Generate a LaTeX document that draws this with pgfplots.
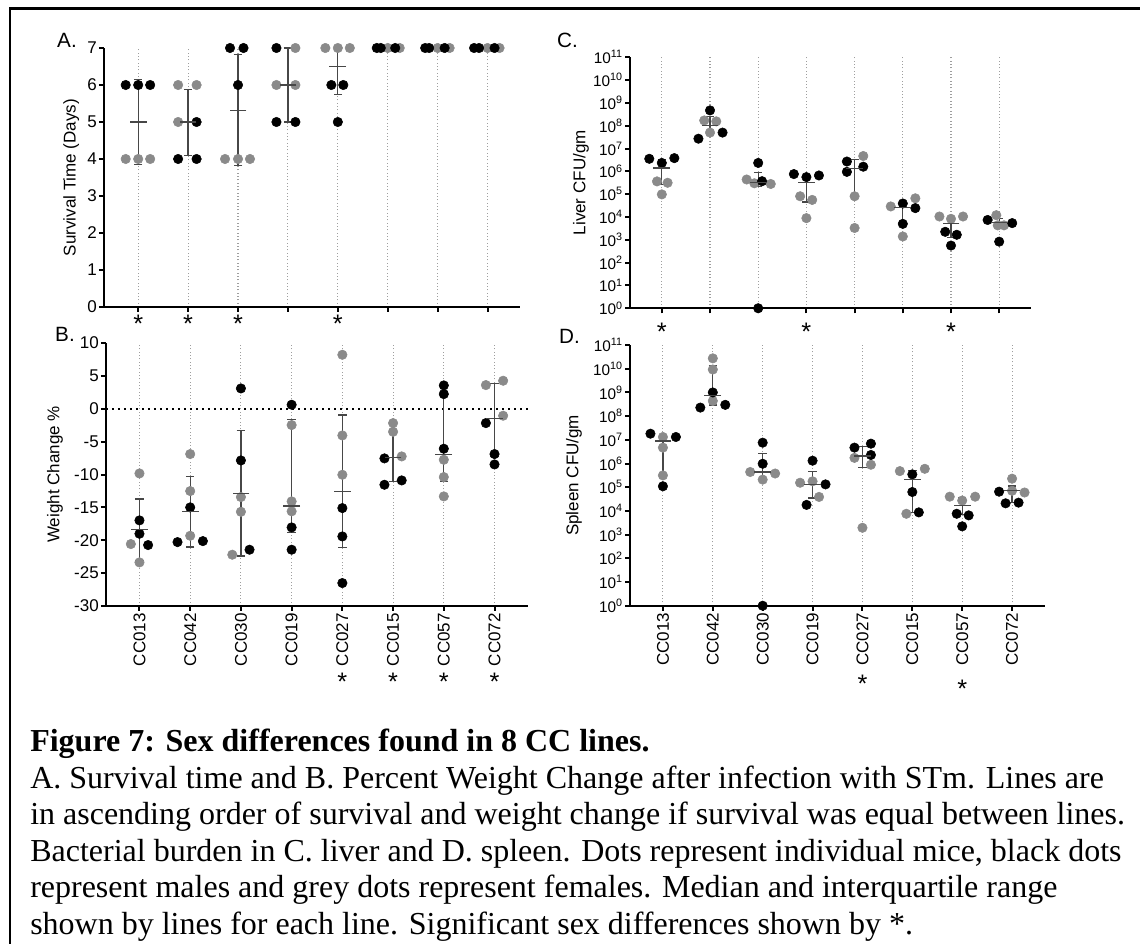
\documentclass[border=0pt]{standalone}
\usepackage{fontspec}
\setmainfont{Liberation Sans}
\newfontfamily\capfont{Liberation Serif}
\usepackage{pgfplots}
\usepackage{pgfplotstable}
\pgfplotsset{compat=1.18}

\definecolor{femgray}{gray}{0.54}
\definecolor{barcol}{gray}{0.28}
\definecolor{gridcol}{gray}{0.62}

% ---------------- Panel A: survival time (days) ----------------
\pgfplotstableread{
x y
-0.25 4
0 4
0.24 4
0.8 6
1.17 6
0.8 5
1.74 4
2 4
2.24 4
3.15 7
2.77 6
3.15 6
3.75 7
4 7
4.24 7
5 7
5.24 7
6 7
6.24 7
7 7
7.24 7
}\survF
\pgfplotstableread{
x y
-0.25 6
0 6
0.24 6
1.17 5
0.8 4
1.17 4
1.84 7
2.11 7
2 6
2.77 7
2.77 5
3.15 5
3.87 6
4.11 6
4 5
4.78 7
4.86 7
5.15 7
5.75 7
5.83 7
6.14 7
6.73 7
6.83 7
7.14 7
}\survM
\pgfplotstableread{
x mid lo hi
0 5 3.85 6.15
1 5 4.1 5.88
2 5.32 3.82 6.83
3 6 5 7
4 6.5 5.75 7
}\survS

% ---------------- Panel B: weight change (%) ----------------
\pgfplotstableread{
x y
0 -9.84
-0.17 -20.58
0 -23.37
1 -6.89
1 -12.52
1 -19.32
2 -13.43
2 -15.67
1.83 -22.2
3 -2.48
3 -14.09
3 -15.6
4 8.21
4 -4.06
4 -10.04
5 -2.18
5 -3.5
5.17 -7.25
6 -7.76
6 -10.39
6 -13.33
6.83 3.6
7.17 4.26
7.17 -1.06
}\wtF
\pgfplotstableread{
x y
0 -16.98
0 -19.01
0.17 -20.73
1 -15.0
0.75 -20.28
1.25 -20.13
2 3.09
2 -7.86
2.17 -21.44
3 0.61
3 -18.05
3 -21.44
4 -15.11
4 -19.42
4 -26.51
4.83 -7.55
4.83 -11.56
5.17 -10.9
6 3.55
6 2.23
6 -6.08
6.83 -2.18
7 -6.89
7 -8.47
}\wtM
\pgfplotstableread{
x mid lo hi
0 -18.35 -23.1 -13.74
1 -15.67 -21.04 -10.29
2 -12.88 -22.41 -3.35
3 -14.8 -18.81 -1.67
4 -12.57 -21.14 -0.96
5 -7.45 -11.05 -3.17
6 -6.95 -11.05 2.56
7 -1.52 -7.28 3.9
}\wtS

% ---------------- Panel C: liver CFU/gm ----------------
\pgfplotstableread{
x y
-0.1 3.63e5
0.12 3.16e5
0 9.8e4
0.88 1.7e8
1.13 1.55e8
1 5.0e7
1.76 4.4e5
1.92 3.0e5
2.26 2.8e5
2.87 8.1e4
3.12 5.6e4
3 8.9e3
4.18 4.7e6
4 8.1e4
4 3.3e3
4.75 2.9e4
5.26 6.6e4
5 1.4e3
5.76 1.05e4
6 8.3e3
6.25 1.05e4
6.94 1.2e4
6.97 4.3e3
7.1 4.3e3
}\livF
\pgfplotstableread{
x y
-0.26 3.55e6
0 2.34e6
0.26 3.8e6
1 4.7e8
0.76 2.7e7
1.26 5.0e7
2 2.34e6
2.08 3.7e5
2 1
2.74 7.6e5
3 5.6e5
3.26 6.6e5
3.84 2.7e6
3.84 9.5e5
4.18 1.6e6
5 3.9e4
5.26 2.45e4
5 5.0e3
5.88 2.24e3
6.12 1.66e3
6 5.6e2
6.76 7.4e3
7.27 5.4e3
7 8.3e2
}\livM
\pgfplotstableread{
x mid lo hi
0 1.4e6 2.7e5 3.4e6
1 1.02e8 4.3e7 2.45e8
2 3.2e5 2.2e5 8.9e5
3 3.2e5 4.5e4 6.3e5
4 1.3e6 8.9e4 3.3e6
5 2.7e4 5.6e3 4.0e4
6 5.0e3 1.3e3 8.9e3
7 5.75e3 4.0e3 8.9e3
}\livS

% ---------------- Panel D: spleen CFU/gm ----------------
\pgfplotstableread{
x y
0 1.32e7
0 4.7e6
0 3.16e5
1 2.75e10
1 9.3e9
1 4.4e8
1.75 4.4e5
2.25 3.8e5
2 2.1e5
2.75 1.55e5
3 1.78e5
3.13 3.9e4
3.84 1.74e6
4.17 8.9e5
4 1.95e3
4.75 4.8e5
5.25 6.0e5
4.88 7.6e3
5.75 4.0e4
6 2.75e4
6.26 4.0e4
7 2.3e5
7 7.1e4
7.25 6.0e4
}\splF
\pgfplotstableread{
x y
-0.25 1.82e7
0.26 1.32e7
0 1.1e5
1 1e9
0.75 2.3e8
1.25 3.0e8
2 7.6e6
2 9.8e5
2 1
3 1.32e6
3.26 1.32e5
2.88 1.8e4
3.84 4.7e6
4.17 6.9e6
4.17 2.3e6
5 3.5e5
5 6.3e4
5.13 8.7e3
5.89 7.6e3
6.13 6.5e3
6 2.24e3
6.74 6.5e4
6.87 2.1e4
7.13 2.24e4
}\splM
\pgfplotstableread{
x mid lo hi
0 8.9e6 2.8e5 1.26e7
1 7.4e8 2.95e8 1.4e10
2 4.4e5 2.2e5 2.7e6
3 1.35e5 3.5e4 4.7e5
4 2.1e6 6.9e5 5.2e6
5 2.1e5 8.7e3 5.1e5
6 1.7e4 7.1e3 3.5e4
7 7.1e4 2.24e4 1.12e5
}\splS

\newcommand\chartfont{\fontsize{12.75}{14}\selectfont}
\newcommand\logfont{\fontsize{11.5}{12}\selectfont}
\newcommand\sigstar{\fontsize{19}{19}\selectfont *}
\newcommand\dec[1]{10\textsuperscript{#1}}

\tikzset{sig/.style={anchor=north, inner sep=0pt}}

\pgfplotsset{
  ccaxis/.style={
    scale only axis, anchor=south west, clip=false,
    axis x line*=bottom, axis y line*=left,
    axis line style={line width=1.5pt},
    tick align=outside, major tick length=3.75pt,
    every tick/.style={black, line width=1.5pt},
    xtick={0,...,7}, xmin=-0.66, xmax=7.66,
    xmajorgrids,
    major x grid style={gridcol, line width=0.8pt, dash pattern=on 0.8pt off 1.7pt},
    tick label style={font=\chartfont},
    label style={font=\chartfont},
    /pgf/number format/assume math mode=true,
    yticklabel style={inner sep=1.5pt},
    xticklabel style={inner sep=1.5pt},
  },
  cfu/.style={
    ymin=1, ymax=1e11, yminorticks=false,
    ytick={1,1e1,1e2,1e3,1e4,1e5,1e6,1e7,1e8,1e9,1e10,1e11},
    yticklabels={\dec{0},\dec{1},\dec{2},\dec{3},\dec{4},\dec{5},\dec{6},
      \dec{7},\dec{8},\dec{9},\dec{10},\dec{11}},
    yticklabel style={font=\logfont},
  },
  cclabels/.style={
    xticklabels={CC013,CC042,CC030,CC019,CC027,CC015,CC057,CC072},
    xticklabel style={rotate=90, anchor=east},
  },
  female/.style={only marks, mark=*, mark size=3.55pt, color=femgray,
    mark options={solid, fill=femgray, draw=femgray}},
  male/.style={only marks, mark=*, mark size=3.55pt, color=black,
    mark options={solid, fill=black, draw=black}},
  spread/.style={only marks, mark=-, mark size=6.3pt, color=barcol,
    mark options={solid, line width=0.9pt},
    error bars/.cd, y dir=both, y explicit,
    error bar style={line width=0.9pt, barcol},
    error mark options={rotate=90, mark size=3.2pt, line width=0.9pt, barcol}},
}

\newcommand\spreadplot[1]{%
  \addplot[spread] table[x=x, y=mid,
    y error plus expr={\thisrow{hi}-\thisrow{mid}},
    y error minus expr={\thisrow{mid}-\thisrow{lo}}]{#1};}

\begin{document}
\begin{tikzpicture}
\path[use as bounding box] (0,0) rectangle (855pt,-708pt);
% frame
\draw[line width=1.9pt] (7.5pt,-710pt) -- (7.5pt,-6.4pt) -- (857pt,-6.4pt);

% panel letters
\node[font=\fontsize{15.5}{16}\selectfont, inner sep=0pt] at (50.25pt,-30pt) {A.};
\node[font=\fontsize{15.5}{16}\selectfont, inner sep=0pt] at (48.75pt,-250.9pt) {B.};
\node[font=\fontsize{15.5}{16}\selectfont, inner sep=0pt] at (425.6pt,-30pt) {C.};
\node[font=\fontsize{15.5}{16}\selectfont, inner sep=0pt] at (427.1pt,-252pt) {D.};

% ---- A ----
\begin{axis}[ccaxis, at={(78pt,-230.25pt)}, width=312pt, height=194.25pt,
  xmin=-0.685, xmax=7.65, ymin=0, ymax=7, ytick={0,...,7},
  xticklabels={},
  ylabel={Survival Time (Days)},
  ylabel style={at={(axis description cs:-0.079,0.5)}, anchor=center}]
\addplot[female] table{\survF};
\addplot[male] table{\survM};
\spreadplot{\survS}
\node[sig] at (axis cs:0,0) [yshift=-6pt] {\sigstar};
\node[sig] at (axis cs:1,0) [yshift=-6pt] {\sigstar};
\node[sig] at (axis cs:2,0) [yshift=-6pt] {\sigstar};
\node[sig] at (axis cs:4,0) [yshift=-6pt] {\sigstar};
\end{axis}

% ---- B ----
\begin{axis}[ccaxis, cclabels, at={(79.5pt,-454.5pt)}, width=316.5pt, height=197.25pt,
  ymin=-30, ymax=10, ytick={-30,-25,...,10},
  ylabel={Weight Change \%},
  ylabel style={at={(axis description cs:-0.121,0.5)}, anchor=center}]
\addplot[black, line width=1.4pt, dash pattern=on 1.2pt off 3.3pt, forget plot]
  coordinates {(-0.66,0) (7.66,0)};
\addplot[female] table{\wtF};
\addplot[male] table{\wtM};
\spreadplot{\wtS}
\node[sig] at (axis cs:4,-30) [yshift=-50.25pt] {\sigstar};
\node[sig] at (axis cs:5,-30) [yshift=-50.25pt] {\sigstar};
\node[sig] at (axis cs:6,-30) [yshift=-50.25pt] {\sigstar};
\node[sig] at (axis cs:7,-30) [yshift=-50.25pt] {\sigstar};
\end{axis}

% ---- C ----
\begin{semilogyaxis}[ccaxis, cfu, at={(472.5pt,-231.2pt)}, width=300.75pt, height=188.25pt,
  xticklabels={},
  ylabel={Liver CFU/gm},
  ylabel style={at={(axis description cs:-0.122,0.5)}, anchor=center}]
\addplot[female] table{\livF};
\addplot[male] table{\livM};
\spreadplot{\livS}
\node[sig] at (axis cs:0,1) [yshift=-11pt] {\sigstar};
\node[sig] at (axis cs:3,1) [yshift=-11pt] {\sigstar};
\node[sig] at (axis cs:6,1) [yshift=-11pt] {\sigstar};
\end{semilogyaxis}

% ---- D ----
\begin{semilogyaxis}[ccaxis, cfu, cclabels, at={(472.5pt,-454.3pt)}, width=311.25pt, height=195.5pt,
  ylabel={Spleen CFU/gm},
  ylabel style={at={(axis description cs:-0.135,0.5)}, anchor=center}]
\addplot[female] table{\splF};
\addplot[male] table{\splM};
\spreadplot{\splS}
\node[sig] at (axis cs:4,1) [yshift=-52pt] {\sigstar};
\node[sig] at (axis cs:6,1) [yshift=-55.7pt] {\sigstar};
\end{semilogyaxis}

% caption
\begin{scope}[every node/.style={anchor=base west, inner sep=0pt,
    font=\capfont\fontsize{24}{27.75}\selectfont}]
\node at (22.5pt,-564pt) {\bfseries Figure 7: Sex differences found in 8 CC lines.};
\node at (22.5pt,-591.4pt) {A. Survival time and B. Percent Weight Change after infection with STm. Lines are};
\node at (22.5pt,-618.75pt) {in ascending order of survival and weight change if survival was equal between lines.};
\node at (22.5pt,-646.1pt) {Bacterial burden in C. liver and D. spleen. Dots represent individual mice, black dots};
\node at (22.5pt,-673.5pt) {represent males and grey dots represent females. Median and interquartile range};
\node at (22.5pt,-700.9pt) {shown by lines for each line. Significant sex differences shown by *.};
\end{scope}
\end{tikzpicture}
\end{document}
